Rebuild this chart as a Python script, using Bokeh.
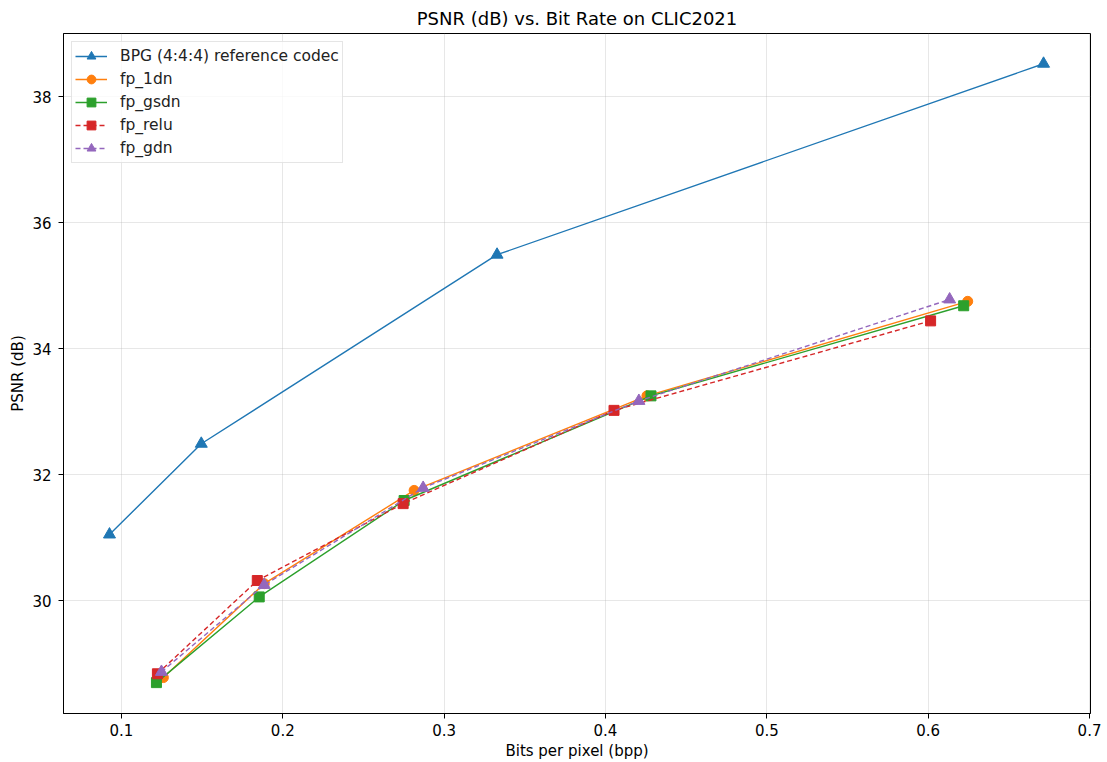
from bokeh.plotting import figure
from bokeh.models import Range1d, FixedTicker, Legend, LegendItem, Title
from bokeh.embed import file_html
from bokeh.resources import INLINE

# Rate-distortion points (bpp, PSNR dB) on CLIC2021
bpg_bpp = [0.0926, 0.1495, 0.3328, 0.6715]
bpg_psnr = [31.05, 32.49, 35.49, 38.52]

fp_1dn_bpp = [0.1260, 0.1885, 0.2814, 0.4257, 0.6245]
fp_1dn_psnr = [28.78, 30.27, 31.75, 33.25, 34.75]

fp_gsdn_bpp = [0.1217, 0.1854, 0.2752, 0.4282, 0.6220]
fp_gsdn_psnr = [28.70, 30.06, 31.59, 33.25, 34.68]

fp_relu_bpp = [0.1223, 0.1842, 0.2746, 0.4053, 0.6015]
fp_relu_psnr = [28.84, 30.32, 31.54, 33.02, 34.44]

fp_gdn_bpp = [0.1248, 0.1885, 0.2870, 0.4207, 0.6133]
fp_gdn_psnr = [28.87, 30.25, 31.79, 33.17, 34.78]

x_ticks = [0.1, 0.2, 0.3, 0.4, 0.5, 0.6, 0.7]
y_ticks = [30, 32, 34, 36, 38]

FONT = "DejaVu Sans"

p = figure(
    width=1107, height=762,
    x_range=Range1d(0.0641, 0.7006), y_range=Range1d(28.21, 39.0),
    output_backend="svg", toolbar_location=None,
    min_border_left=63, min_border_right=17, min_border_top=33, min_border_bottom=49,
)
p.title = Title(text="PSNR (dB) vs. Bit Rate on CLIC2021", align="center",
                text_font=FONT, text_font_size="18px", text_font_style="normal",
                text_color="black", offset=0, standoff=9)

series = [
    ("BPG (4:4:4) reference codec", bpg_bpp, bpg_psnr, "#1f77b4", "triangle", "solid", 12),
    ("fp_1dn", fp_1dn_bpp, fp_1dn_psnr, "#ff7f0e", "circle", "solid", 10),
    ("fp_gsdn", fp_gsdn_bpp, fp_gsdn_psnr, "#2ca02c", "square", "solid", 10),
    ("fp_relu", fp_relu_bpp, fp_relu_psnr, "#d62728", "square", "5 3", 10),
    ("fp_gdn", fp_gdn_bpp, fp_gdn_psnr, "#9467bd", "triangle", "5 3", 12),
]

items = []
for name, xs, ys, color, marker, dash, size in series:
    ln = p.line(xs, ys, line_color=color, line_width=1.4, line_dash=dash)
    sc = p.scatter(xs, ys, marker=marker, size=size, fill_color=color, line_color=color)
    items.append(LegendItem(label=name, renderers=[ln, sc]))

legend = Legend(items=items, location="top_left",
                label_text_font=FONT, label_text_font_size="15.5px",
                label_text_color="#222222",
                border_line_color="#cccccc", border_line_width=1,
                background_fill_alpha=0.8,
                glyph_width=32, glyph_height=22, spacing=1,
                padding=3, margin=8, label_standoff=13)
p.add_layout(legend, "center")

# axes styling
for ax in (p.xaxis[0], p.yaxis[0]):
    ax.major_label_text_font = FONT
    ax.major_label_text_font_size = "15px"
    ax.major_label_text_color = "black"
    ax.axis_label_text_font = FONT
    ax.axis_label_text_font_size = "15px"
    ax.axis_label_text_font_style = "normal"
    ax.axis_label_text_color = "black"
    ax.axis_line_color = "black"
    ax.major_tick_line_color = "black"
    ax.major_tick_out = 5
    ax.major_tick_in = 0
    ax.minor_tick_line_color = None

p.xaxis.major_label_standoff = 5
p.xaxis.axis_label_standoff = 3
p.yaxis.major_label_standoff = 7
p.yaxis.axis_label_standoff = 2

p.xaxis.axis_label = "Bits per pixel (bpp)"
p.yaxis.axis_label = "PSNR (dB)"
p.xaxis.ticker = FixedTicker(ticks=x_ticks)
p.yaxis.ticker = FixedTicker(ticks=y_ticks)

p.grid.grid_line_color = "#b0b0b0"
p.grid.grid_line_alpha = 0.3
p.xgrid.ticker = FixedTicker(ticks=x_ticks)
p.ygrid.ticker = FixedTicker(ticks=y_ticks)

p.outline_line_color = "black"
p.outline_line_width = 1
p.background_fill_color = "white"
p.border_fill_color = "white"

open("out.html", "w").write(file_html(p, INLINE))
